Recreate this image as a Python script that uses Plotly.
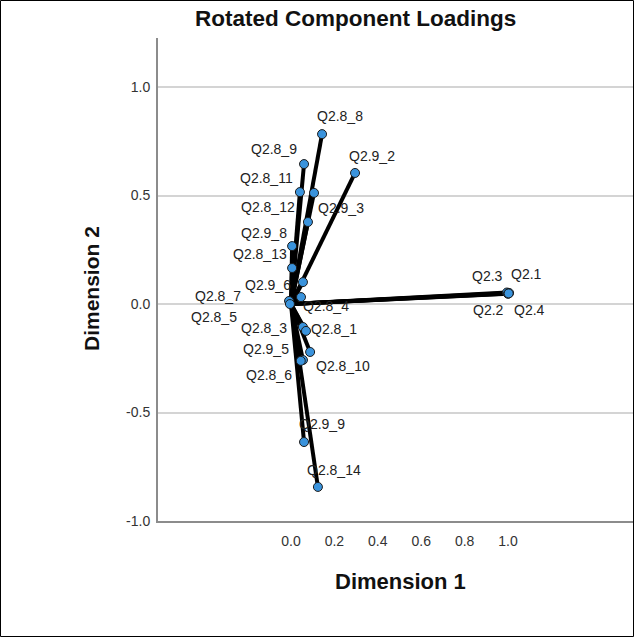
import plotly.graph_objects as go

labels = ["Q2.8_8", "Q2.8_9", "Q2.9_2", "Q2.8_11", "Q2.8_12", "Q2.9_3", "Q2.9_8",
          "Q2.8_13", "Q2.9_6", "Q2.8_7", "Q2.8_5", "Q2.8_4", "Q2.8_3", "Q2.8_1",
          "Q2.9_5", "Q2.8_10", "Q2.8_6", "Q2.9_9", "Q2.8_14",
          "Q2.3", "Q2.1", "Q2.2", "Q2.4"]
dim1 = [0.143, 0.060, 0.295, 0.041, 0.106, 0.078, 0.005,
        0.005, 0.055, -0.009, -0.005, 0.046, 0.055, 0.069,
        0.055, 0.088, 0.045, 0.060, 0.124,
        0.995, 1.005, 1.000, 1.003]
dim2 = [0.783, 0.645, 0.604, 0.516, 0.512, 0.378, 0.267,
        0.166, 0.101, 0.014, 0.000, 0.032, -0.106, -0.124,
        -0.258, -0.221, -0.262, -0.636, -0.843,
        0.053, 0.051, 0.047, 0.049]
y_ticks = [-1.0, -0.5, 0.0, 0.5, 1.0]
y_tick_text = ["-1.0", "-0.5", "0.0", "0.5", "1.0"]
x_ticks = [0.0, 0.2, 0.4, 0.6, 0.8, 1.0]
x_tick_text = ["0.0", "0.2", "0.4", "0.6", "0.8", "1.0"]

# label offsets (pixels, screen dx, dy) relative to each point
label_offsets = [(18, -18), (-30, -15), (17, -17), (-33, -14), (-46, 14), (33, -14), (-28, -13),
                 (-32, -14), (-35, 3), (-71, -5), (-76, 13), (25, 9), (-39, 1), (28, -2),
                 (-37, -11), (33, 14), (-32, 14), (18, -18), (16, -17),
                 (-19, -17), (17, -19), (-20, 16), (21, 17)]

xs, ys = [], []
for a, b in zip(dim1, dim2):
    xs += [0, a, None]
    ys += [0, b, None]

FAM = "Liberation Sans, Arial, sans-serif"

fig = go.Figure()
fig.add_trace(go.Scatter(x=xs, y=ys, mode="lines",
                         line=dict(color="black", width=4),
                         hoverinfo="skip", showlegend=False))
fig.add_trace(go.Scatter(x=dim1, y=dim2, mode="markers", text=labels,
                         marker=dict(size=9, color="#3a93dc",
                                     line=dict(color="#1a1a1a", width=1)),
                         showlegend=False))

font_lbl = dict(family=FAM, size=14, color="#222222")
for lab, a, b, (dx, dy) in zip(labels, dim1, dim2, label_offsets):
    fig.add_annotation(x=a, y=b, text=lab, showarrow=False, xshift=dx, yshift=-dy,
                       font=font_lbl, xanchor="center", yanchor="middle")

# title and axis titles
fig.add_annotation(xref="paper", yref="paper", x=(355 - 158) / 475, y=(521 - 18) / 483,
                   text="<b>Rotated Component Loadings</b>", showarrow=False,
                   font=dict(family=FAM, size=22.5, color="#111"),
                   xanchor="center", yanchor="middle")
fig.add_annotation(xref="paper", yref="paper", x=(400 - 158) / 475, y=(521 - 581) / 483,
                   text="<b>Dimension 1</b>", showarrow=False,
                   font=dict(family=FAM, size=22, color="#111"),
                   xanchor="center", yanchor="middle")
fig.add_annotation(xref="paper", yref="paper", x=(91 - 158) / 475, y=(521 - 289) / 483,
                   text="<b>Dimension 2</b>", showarrow=False, textangle=-90,
                   font=dict(family=FAM, size=21, color="#111"),
                   xanchor="center", yanchor="middle")

# outer frame
fig.add_shape(type="rect", xref="paper", yref="paper",
              x0=(0.5 - 158) / 475, x1=(633.5 - 158) / 475,
              y0=(521 - 636.5) / 483, y1=(521 - 0.5) / 483,
              line=dict(color="black", width=1), fillcolor="rgba(0,0,0,0)", layer="above")

tick_font = dict(family=FAM, size=14, color="#333333")
fig.update_layout(
    width=635, height=637,
    margin=dict(l=158, r=2, t=38, b=116),
    paper_bgcolor="white", plot_bgcolor="white",
    xaxis=dict(range=[-0.613, 1.576], tickvals=x_ticks, ticktext=x_tick_text,
               showgrid=False, zeroline=False,
               showline=True, linecolor="#8c8c8c", linewidth=2, ticks="",
               tickfont=tick_font, ticklabelstandoff=6),
    yaxis=dict(range=[-1.0, 1.226], tickvals=y_ticks, ticktext=y_tick_text,
               showgrid=True, gridcolor="#d4d4d4", gridwidth=2,
               zeroline=False, showline=True, linecolor="#8c8c8c", linewidth=2,
               ticks="", tickfont=tick_font, ticklabelstandoff=3),
)

fig.write_html("out.html")
